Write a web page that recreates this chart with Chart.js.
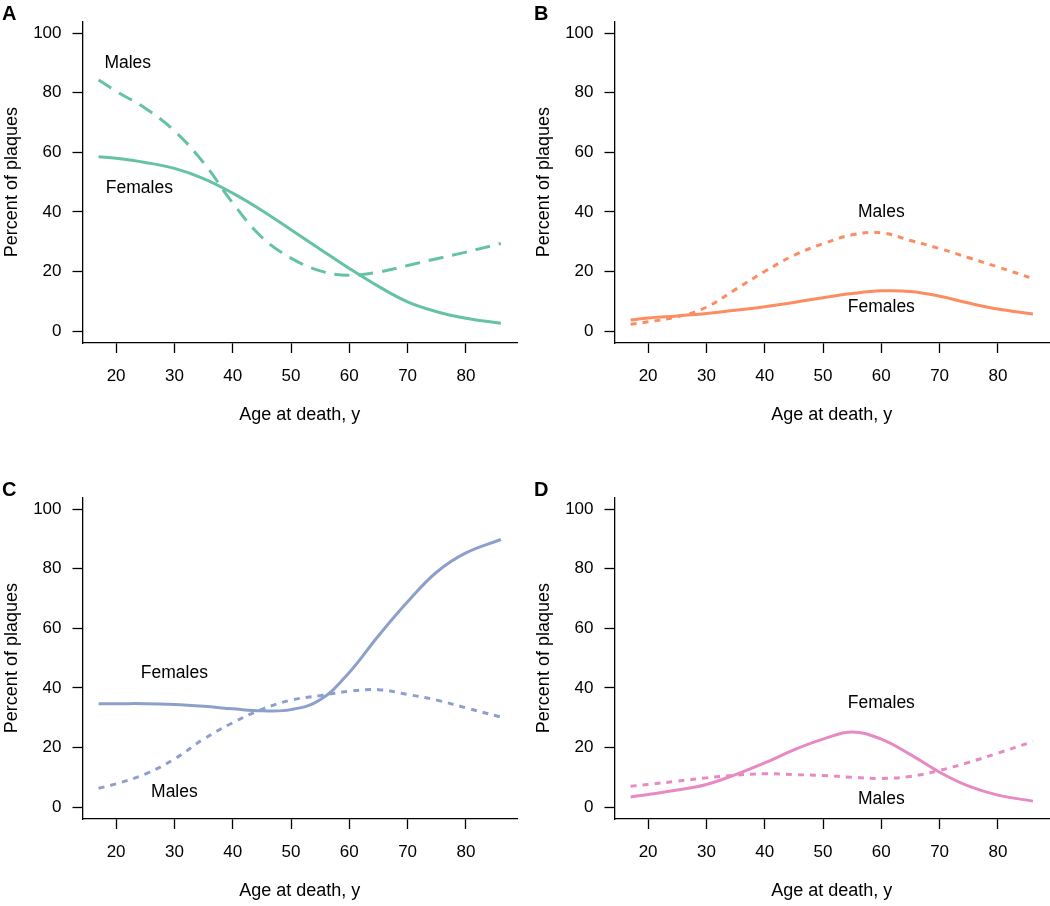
<!DOCTYPE html>
<html>
<head>
<meta charset="utf-8">
<script src="https://cdn.jsdelivr.net/npm/chart.js@4.4.1/dist/chart.umd.min.js"></script>
<style>
  body { margin: 0; background: #fff; overflow: hidden; }
  .panel { position: absolute; }
</style>
</head>
<body>
<canvas id="panelA" class="panel" width="519" height="440" style="left:0px;top:0px"></canvas>
<canvas id="panelB" class="panel" width="519" height="440" style="left:532px;top:0px"></canvas>
<canvas id="panelC" class="panel" width="519" height="440" style="left:0px;top:476px"></canvas>
<canvas id="panelD" class="panel" width="519" height="440" style="left:532px;top:476px"></canvas>
<script>
const ages = [17, 20, 25, 30, 35, 40, 45, 50, 55, 60, 65, 70, 75, 80, 86];

const femalesA = [58.5, 58, 56.6, 54.6, 51.2, 46.3, 40.5, 34, 27.5, 21, 15, 9.8, 6.5, 4.3, 2.6];
const malesA = [84.3, 80.5, 74.8, 67.2, 56.5, 43, 31.5, 24.5, 20.2, 18.7, 19.8, 22, 24.3, 26.5, 29.4];

const femalesB = [3.7, 4.4, 5.1, 5.9, 7, 8.2, 9.6, 11.2, 12.6, 13.5, 13.3, 11.7, 9.4, 7.4, 5.7];
const malesB = [2.3, 3.1, 4.8, 8, 14, 20, 25.4, 29.3, 32.3, 33, 30.4, 27.7, 24.6, 21.5, 17.6];

const femalesC = [34.7, 34.7, 34.7, 34.4, 33.8, 33, 32.3, 32.7, 36, 45.2, 57.5, 68.9, 78.9, 85.3, 89.8];
const malesC = [6.3, 7.8, 11.1, 16.1, 22.8, 28.3, 32.8, 35.9, 37.4, 38.9, 39.4, 37.8, 35.9, 33.3, 30.2];

const femalesD = [3.4, 4.2, 5.7, 7.6, 10.9, 14.8, 19.2, 22.8, 25.2, 22.8, 17.6, 11.7, 7, 4, 2];
const malesD = [7, 7.6, 8.7, 9.8, 10.7, 11.2, 10.9, 10.6, 10, 9.6, 10.3, 12.3, 15, 18.1, 22];

const xTicks = [20, 30, 40, 50, 60, 70, 80];
const yTicks = [0, 20, 40, 60, 80, 100];

// curve labels: [text, age, percent]
const notesA = [['Males', 22, 90], ['Females', 24, 48]];
const notesB = [['Males', 60, 40], ['Females', 60, 8]];
const notesC = [['Females', 30, 45], ['Males', 30, 5]];
const notesD = [['Females', 60, 35], ['Males', 60, 2.5]];

Chart.defaults.font.family = '"Liberation Sans", Arial, sans-serif';
Chart.defaults.color = '#000';

const tickFont = { size: 17 };
const titleFont = { size: 18 };

function pts(ys) {
    return ages.map((a, i) => ({ x: a, y: ys[i] }));
}

function makePanel(id, letter, color, females, males, dash, notes) {
    const notePlugin = {
        id: 'notes' + letter,
        afterDatasetsDraw(chart) {
            const c = chart.ctx;
            c.save();
            c.fillStyle = '#000';
            c.font = '17.5px "Liberation Sans", Arial, sans-serif';
            c.textAlign = 'center';
            c.textBaseline = 'middle';
            notes.forEach(n => {
                c.fillText(n[0], chart.scales.x.getPixelForValue(n[1]), chart.scales.y.getPixelForValue(n[2]));
            });
            c.font = 'bold 20px "Liberation Sans", Arial, sans-serif';
            c.textAlign = 'left';
            c.textBaseline = 'alphabetic';
            c.fillText(letter, 2, 20);
            c.restore();
        }
    };

    new Chart(document.getElementById(id), {
        type: 'line',
        data: {
            datasets: [{
                label: 'Females',
                data: pts(females),
                borderColor: color,
                borderWidth: 3,
                pointRadius: 0,
                tension: 0.4,
                fill: false
            }, {
                label: 'Males',
                data: pts(males),
                borderColor: color,
                borderWidth: 3,
                borderDash: dash,
                pointRadius: 0,
                tension: 0.4,
                fill: false
            }]
        },
        options: {
            responsive: false,
            animation: false,
            layout: { padding: { top: 18, right: 2, left: 0, bottom: 14 } },
            plugins: { legend: { display: false }, tooltip: { enabled: false } },
            scales: {
                x: {
                    type: 'linear',
                    min: 14.24,
                    max: 88.76,
                    afterBuildTicks: s => { s.ticks = xTicks.map(v => ({ value: v })); },
                    afterFit: s => { s.height = 83; },
                    grid: { drawOnChartArea: false, drawTicks: true, tickLength: 10, tickColor: '#000', tickWidth: 1.3 },
                    border: { color: '#000', width: 1.3 },
                    ticks: { color: '#000', font: tickFont, padding: 13, maxRotation: 0, autoSkip: false },
                    title: { display: true, text: 'Age at death, y', color: '#000', font: titleFont, padding: 0 }
                },
                y: {
                    min: -4,
                    max: 104,
                    afterBuildTicks: s => { s.ticks = yTicks.map(v => ({ value: v })); },
                    afterFit: s => { s.width = 82.5; },
                    grid: { drawOnChartArea: false, drawTicks: true, tickLength: 10, tickColor: '#000', tickWidth: 1.3 },
                    border: { color: '#000', width: 1.3 },
                    ticks: { color: '#000', font: tickFont, padding: 11 },
                    title: { display: true, text: 'Percent of plaques', color: '#000', font: titleFont, padding: { top: 1 } }
                }
            }
        },
        plugins: [notePlugin]
    });
}

makePanel('panelA', 'A', '#66C2A5', femalesA, malesA, [15, 9], notesA);
makePanel('panelB', 'B', '#FC8D62', femalesB, malesB, [6, 6], notesB);
makePanel('panelC', 'C', '#8DA0CB', femalesC, malesC, [6, 6], notesC);
makePanel('panelD', 'D', '#E78AC3', femalesD, malesD, [6, 6], notesD);
</script>
</body>
</html>
